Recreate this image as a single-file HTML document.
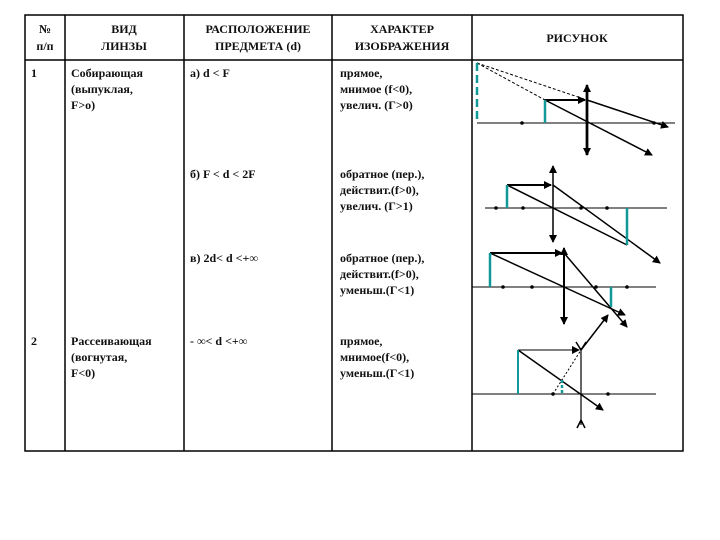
<!DOCTYPE html>
<html><head><meta charset="utf-8"><style>
body{margin:0;background:#fff;width:720px;height:540px;overflow:hidden}
svg{display:block}
text{font-family:"Liberation Serif","DejaVu Serif",serif;font-weight:bold;font-size:12px;fill:#111}
</style></head><body>
<svg width="720" height="540" viewBox="0 0 720 540">
<defs>
<marker id="ah" markerWidth="8" markerHeight="8" refX="7" refY="4" orient="auto" markerUnits="userSpaceOnUse"><path d="M0,0 L8,4 L0,8 Z" fill="#000"/></marker>
</defs>
<g stroke="#000" stroke-width="1.5" fill="none">
<rect x="25" y="15" width="658" height="436"/>
<line x1="25" y1="60" x2="683" y2="60"/>
<line x1="65" y1="15" x2="65" y2="451"/>
<line x1="184" y1="15" x2="184" y2="451"/>
<line x1="332" y1="15" x2="332" y2="451"/>
<line x1="472" y1="15" x2="472" y2="451"/>
</g>
<g text-anchor="middle">
<text x="45" y="33">№</text><text x="45" y="50">п/п</text>
<text x="124" y="33">ВИД</text><text x="124" y="50">ЛИНЗЫ</text>
<text x="258" y="33">РАСПОЛОЖЕНИЕ</text><text x="258" y="50">ПРЕДМЕТА (d)</text>
<text x="402" y="33">ХАРАКТЕР</text><text x="402" y="50">ИЗОБРАЖЕНИЯ</text>
<text x="577" y="42">РИСУНОК</text>
</g>
<text x="31" y="77">1</text>
<text x="71" y="77">Собирающая</text><text x="71" y="93">(выпуклая,</text><text x="71" y="109">F&gt;o)</text>
<text x="190" y="77">а)   d &lt; F</text>
<text x="340" y="77">прямое,</text><text x="340" y="93">мнимое (f&lt;0),</text><text x="340" y="109">увелич. (Г&gt;0)</text>
<text x="190" y="178">б)  F &lt; d &lt; 2F</text>
<text x="340" y="178">обратное (пер.),</text><text x="340" y="194">действит.(f&gt;0),</text><text x="340" y="210">увелич. (Г&gt;1)</text>
<text x="190" y="262">в) 2d&lt; d &lt;+∞</text>
<text x="340" y="262">обратное (пер.),</text><text x="340" y="278">действит.(f&gt;0),</text><text x="340" y="294">уменьш.(Г&lt;1)</text>
<text x="31" y="345">2</text>
<text x="71" y="345">Рассеивающая</text><text x="71" y="361">(вогнутая,</text><text x="71" y="377">F&lt;0)</text>
<text x="190" y="345">- ∞&lt; d &lt;+∞</text>
<text x="340" y="345">прямое,</text><text x="340" y="361">мнимое(f&lt;0),</text><text x="340" y="377">уменьш.(Г&lt;1)</text>

<g stroke="#000" fill="none">
<!-- a -->
<line x1="477" y1="123" x2="675" y2="123" stroke-width="1"/>
<line x1="587" y1="90" x2="587" y2="155" stroke-width="2.5" marker-end="url(#ah)"/>
<line x1="587" y1="155" x2="587" y2="85" stroke-width="2.5" marker-end="url(#ah)"/>
<line x1="477" y1="63" x2="587" y2="100" stroke-width="1" stroke-dasharray="3,2"/>
<line x1="477" y1="63" x2="545" y2="100" stroke-width="1" stroke-dasharray="3,2"/>
<line x1="545" y1="100" x2="585" y2="100" stroke-width="2" marker-end="url(#ah)"/>
<line x1="587" y1="100" x2="668" y2="127" stroke-width="1.5" marker-end="url(#ah)"/>
<line x1="545" y1="100" x2="652" y2="155" stroke-width="1.5" marker-end="url(#ah)"/>
<!-- b -->
<line x1="485" y1="208" x2="667" y2="208" stroke-width="1"/>
<line x1="553" y1="200" x2="553" y2="166" stroke-width="1.5" marker-end="url(#ah)"/>
<line x1="553" y1="200" x2="553" y2="242" stroke-width="1.5" marker-end="url(#ah)"/>
<line x1="507" y1="185" x2="551" y2="185" stroke-width="2" marker-end="url(#ah)"/>
<line x1="553" y1="185" x2="660" y2="263" stroke-width="1.5" marker-end="url(#ah)"/>
<line x1="507" y1="185" x2="627" y2="245" stroke-width="1.5"/>
<!-- c -->
<line x1="472" y1="287" x2="656" y2="287" stroke-width="1"/>
<line x1="564" y1="270" x2="564" y2="248" stroke-width="2" marker-end="url(#ah)"/>
<line x1="564" y1="270" x2="564" y2="324" stroke-width="2" marker-end="url(#ah)"/>
<line x1="490" y1="253" x2="562" y2="253" stroke-width="2" marker-end="url(#ah)"/>
<line x1="564" y1="253" x2="627" y2="327" stroke-width="1.5" marker-end="url(#ah)"/>
<line x1="490" y1="253" x2="625" y2="315" stroke-width="1.5" marker-end="url(#ah)"/>
<!-- d -->
<line x1="472" y1="394" x2="656" y2="394" stroke-width="1"/>
<line x1="581" y1="348" x2="581" y2="425" stroke-width="1.2"/>
<path d="M576,342 L581,350 L586,342" stroke-width="1.5"/>
<path d="M577,428 L581,420 L585,428" stroke-width="1.5"/>
<line x1="518" y1="350" x2="579" y2="350" stroke-width="1" marker-end="url(#ah)"/>
<line x1="581" y1="350" x2="608" y2="315" stroke-width="1.5" marker-end="url(#ah)"/>
<line x1="553" y1="394" x2="581" y2="350" stroke-width="1" stroke-dasharray="2,2"/>
<line x1="518" y1="350" x2="603" y2="410" stroke-width="1.5" marker-end="url(#ah)"/>
</g>
<g stroke="#199" stroke-width="2.5" fill="none">
<line x1="477" y1="63" x2="477" y2="123" stroke-dasharray="8,4"/>
<line x1="545" y1="100" x2="545" y2="123"/>
<line x1="507" y1="185" x2="507" y2="208"/>
<line x1="627" y1="208" x2="627" y2="245"/>
<line x1="490" y1="253" x2="490" y2="287"/>
<line x1="611" y1="287" x2="611" y2="307"/>
<line x1="518" y1="350" x2="518" y2="394" stroke-width="2"/>
<line x1="562" y1="380" x2="562" y2="394" stroke-dasharray="3,2"/>
</g>
<g fill="#000">
<circle cx="522" cy="123" r="1.8"/><circle cx="654" cy="123" r="1.8"/>
<circle cx="496" cy="208" r="1.8"/><circle cx="523" cy="208" r="1.8"/><circle cx="581" cy="208" r="1.8"/><circle cx="607" cy="208" r="1.8"/>
<circle cx="503" cy="287" r="1.8"/><circle cx="532" cy="287" r="1.8"/><circle cx="596" cy="287" r="1.8"/><circle cx="627" cy="287" r="1.8"/>
<circle cx="553" cy="394" r="1.8"/><circle cx="608" cy="394" r="1.8"/>
</g>
</svg>
</body></html>
